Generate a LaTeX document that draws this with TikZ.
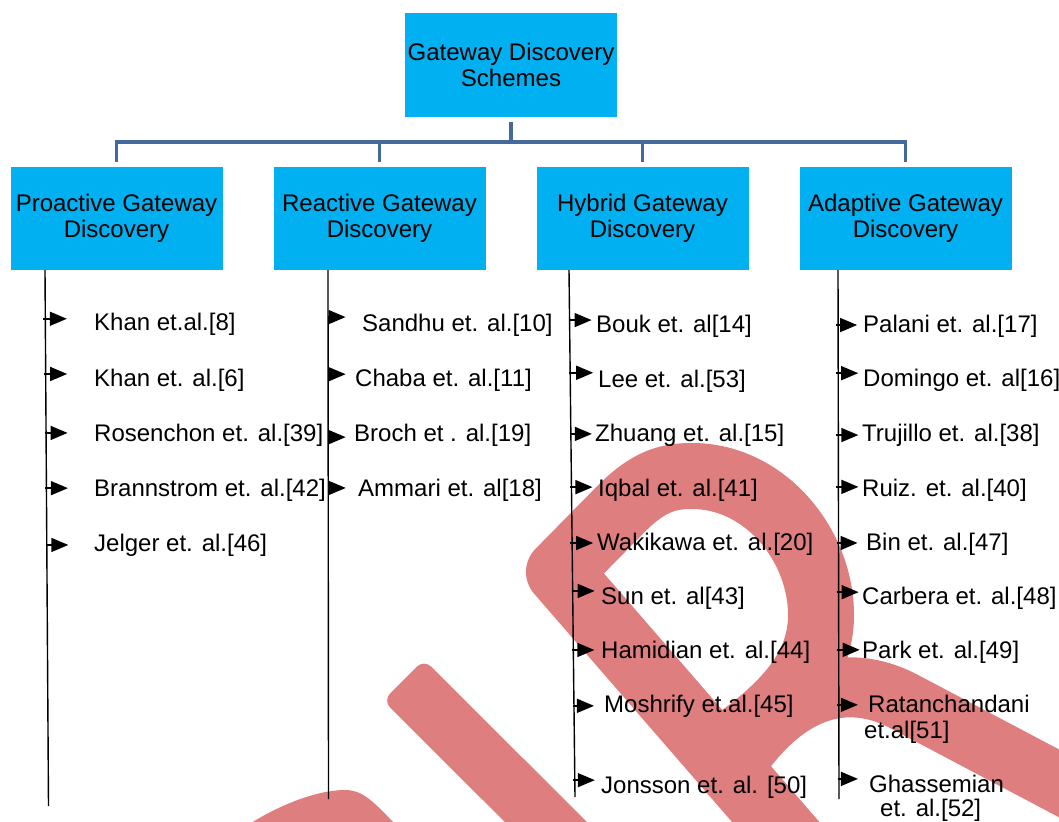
\documentclass[tikz,border=0pt]{standalone}
\usepackage{fontspec}
\setmainfont{Liberation Sans}
\usetikzlibrary{arrows.meta,calc}
\definecolor{boxblue}{HTML}{00B0F0}
\definecolor{connblue}{RGB}{70,105,155}
\definecolor{wmark}{RGB}{222,126,126}
\begin{document}
\begin{tikzpicture}[x=1pt,y=-1pt,
  box/.style={fill=boxblue, minimum width=212pt, minimum height=103pt, inner sep=0pt, align=center, font=\fontsize{24}{26}\selectfont},
  item/.style={anchor=base west, inner sep=0pt, font=\fontsize{24}{26}\selectfont},
  item2/.style={anchor=north west, inner sep=0pt, align=left, font=\fontsize{24}{26}\selectfont},
  conn/.style={draw=connblue, line width=3.8pt},
  colline/.style={line width=1.4pt},
  arr/.style={line width=1.5pt, -{Triangle[length=17pt,width=14pt]}},
  wm/.style={draw=wmark, line width=66pt}]
\useasboundingbox (0,0) rectangle (1059,821);
% watermark (behind everything)
\begin{scope}
\clip (0,0) rectangle (1059,821);
\fill[wmark, rounded corners=10pt] (383,700.5) -- (424,659.5) -- (621,856) -- (580,897) -- cycle;
\fill[wmark] (251,823) .. controls (285,802) and (320,790) .. (345,790) .. controls (362,790) and (372,800) .. (394,823) -- cycle;
\draw[wm, line join=round] (800,850) -- (559,572) -- (622,508) .. controls (650,480) and (670,476) .. (692,476) .. controls (765,476) and (821,545) .. (821,615) .. controls (821,665) and (790,705) .. (720,752);
\draw[wm, line width=60pt] (735,765) .. controls (785,690) and (845,670) .. (905,702) -- (1100,805);
\end{scope}
% boxes
\node[box, minimum height=104pt] (top) at (511,65) {Gateway Discovery\\Schemes};
\node[box] (b1) at (116.5,218.5) {Proactive Gateway\\Discovery};
\node[box] (b2) at (379.5,218.5) {Reactive Gateway\\Discovery};
\node[box] (b3) at (642.5,218.5) {Hybrid Gateway\\Discovery};
\node[box] (b4) at (905.5,218.5) {Adaptive Gateway\\Discovery};
% tree connector
\coordinate (hub) at ($(top.south)+(0,25)$);
\draw[conn] ($(top.south)+(0,5)$) -- (hub);
\draw[conn] ($(b1.north)+(0,-5)$) |- (hub) -| ($(b4.north)+(0,-5)$);
\draw[conn] ($(b2.north)+(0,-5)$) -- (b2.north |- hub);
\draw[conn] ($(b3.north)+(0,-5)$) -- (b3.north |- hub);
% column lines
\coordinate (c1t) at (45,270);  \coordinate (c1b) at (48.5,806);
\coordinate (c2t) at (328,270); \coordinate (c2b) at (328.5,799);
\coordinate (c3t) at (569,270); \coordinate (c3b) at (575,797);
\coordinate (c4t) at (838,270); \coordinate (c4b) at (839,799);
\draw[colline] (c1t) -- (c1b);
\draw[colline] (c2t) -- (c2b);
\draw[colline] (c3t) -- (c3b);
\draw[colline] (c4t) -- (c4b);
% column 1
\node[item] (p1) at (94,330.5) {Khan et.al.[8]};
\node[item] (p2) at (94,386.5) {Khan et. al.[6]};
\node[item] (p3) at (94,441.5) {Rosenchon et. al.[39]};
\node[item] (p4) at (94,496.5) {Brannstrom et. al.[42]};
\node[item] (p5) at (94,551.5) {Jelger et. al.[46]};
\draw[arr] ($(c1t)!0.091!(c1b)+(-2,0)$) -- ++(23.5,0);
\draw[arr] ($(c1t)!0.194!(c1b)+(-2,0)$) -- ++(23.5,0);
\draw[arr] ($(c1t)!0.304!(c1b)+(-1,0)$) -- ++(22.5,0);
\draw[arr] ($(c1t)!0.407!(c1b)+(-1,0)$) -- ++(22.5,0);
\draw[arr] ($(c1t)!0.513!(c1b)+(-1,0)$) -- ++(22.5,0);
% column 2
\node[item] (r1) at (362,331.5) {Sandhu et. al.[10]};
\node[item] (r2) at (355,386.5) {Chaba et. al.[11]};
\node[item] (r3) at (354,441.5) {Broch et . al.[19]};
\node[item] (r4) at (358,496.5) {Ammari et. al[18]};
\draw[arr] ($(c2t)!0.089!(c2b)$) -- ++(17.5,0);
\draw[arr] ($(c2t)!0.197!(c2b)$) -- ++(17.5,0);
\draw[arr] ($(c2t)!0.316!(c2b)$) -- ++(17.5,0);
\draw[arr] ($(c2t)!0.412!(c2b)$) -- ++(17.5,0);
% column 3
\node[item] (h1) at (596,332.5) {Bouk et. al[14]};
\node[item] (h2) at (598,387.5) {Lee et. al.[53]};
\node[item] (h3) at (595,441.5) {Zhuang et. al.[15]};
\node[item] (h4) at (598,496.5) {Iqbal et. al.[41]};
\node[item] (h5) at (597,550.5) {Wakikawa et. al.[20]};
\node[item] (h6) at (601,604.5) {Sun et. al[43]};
\node[item] (h7) at (601,658.5) {Hamidian et. al.[44]};
\node[item] (h8) at (604,712.5) {Moshrify et.al.[45]};
\node[item] (h9) at (601,793.5) {Jonsson et. al. [50]};
\draw[arr] ($(c3t)!0.095!(c3b)+(-1,0)$) -- ++(23,0);
\draw[arr] ($(c3t)!0.195!(c3b)+(-1,0)$) -- ++(24,0);
\draw[arr] ($(c3t)!0.311!(c3b)+(-1,0)$) -- ++(22,0);
\draw[arr] ($(c3t)!0.412!(c3b)+(-1,0)$) -- ++(22,0);
\draw[arr] ($(c3t)!0.518!(c3b)+(-2,0)$) -- ++(23,0);
\draw[arr] ($(c3t)!0.609!(c3b)+(-1,0)$) -- ++(23,0);
\draw[arr] ($(c3t)!0.721!(c3b)+(-1,0)$) -- ++(22,0);
\draw[arr] ($(c3t)!0.827!(c3b)+(-1,0)$) -- ++(21,0);
\draw[arr] ($(c3t)!0.968!(c3b)+(-2,0)$) -- ++(22,0);
% column 4
\node[item] (a1) at (863,332.5) {Palani et. al.[17]};
\node[item] (a2) at (863,386.5) {Domingo et. al[16]};
\node[item] (a3) at (862,441.5) {Trujillo et. al.[38]};
\node[item] (a4) at (862,496.5) {Ruiz. et. al.[40]};
\node[item] (a5) at (866,550.5) {Bin et. al.[47]};
\node[item] (a6) at (862,604.5) {Carbera et. al.[48]};
\node[item] (a7) at (862,658.5) {Park et. al.[49]};
\node[item2] (a8) at (868,695.3) {Ratanchandani\\\hspace*{-4pt}et.al[51]};
\node[item2] (a9) at (869,775) {Ghassemian\\[-2pt]\hspace*{11pt}et. al.[52]};
\draw[arr] ($(c4t)!0.104!(c4b)+(-2,0)$) -- ++(21,0);
\draw[arr] ($(c4t)!0.195!(c4b)+(-2,0)$) -- ++(22,0);
\draw[arr] ($(c4t)!0.312!(c4b)+(-2,0)$) -- ++(22,0);
\draw[arr] ($(c4t)!0.410!(c4b)+(-2,0)$) -- ++(22,0);
\draw[arr] ($(c4t)!0.516!(c4b)+(-2,0)$) -- ++(21,0);
\draw[arr] ($(c4t)!0.609!(c4b)+(-2,0)$) -- ++(22,0);
\draw[arr] ($(c4t)!0.718!(c4b)+(-2,0)$) -- ++(23,0);
\draw[arr] ($(c4t)!0.822!(c4b)+(-2,0)$) -- ++(21,0);
\draw[arr] ($(c4t)!0.962!(c4b)+(-1,0)$) -- ++(20,0);
\end{tikzpicture}
\end{document}
